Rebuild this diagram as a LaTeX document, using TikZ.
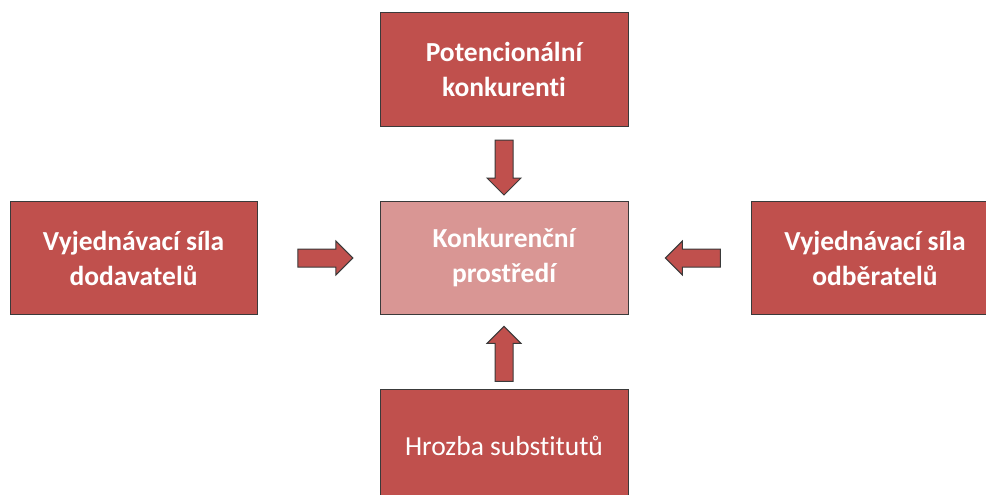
\documentclass[tikz,border=0pt]{standalone}
\usepackage{fontspec}
\setmainfont[Ligatures={NoCommon}]{Carlito}
\usepackage{tikz}
\usetikzlibrary{shapes.arrows}

\definecolor{boxred}{HTML}{C0504D}
\definecolor{boxpink}{HTML}{D99694}
\definecolor{edgegray}{HTML}{3A3A3A}

\tikzset{
	force/.style={draw=edgegray,line width=1pt,fill=boxred,text=white,
		minimum width=248pt,minimum height=113pt,align=center,inner sep=0pt,
		font=\fontsize{27.5}{35}\selectfont\bfseries},
	blockarrow/.style={single arrow,draw=edgegray,line width=1pt,fill=boxred,
		minimum height=55pt,inner xsep=0pt,inner ysep=8.5pt,
		single arrow head extend=8pt,sloped,allow upside down}
}

\begin{document}
\begin{tikzpicture}[x=1pt,y=-1pt]
	\useasboundingbox (0,0) rectangle (986,495);
	\clip (0,0) rectangle (986,495);
	\node[force] (pot) at (504,69.5) {Potencionální\\konkurenti};
	\node[force,minimum width=247pt] (dod) at (133.5,258) {Vyjednávací síla\\dodavatelů};
	\node[force,fill=boxpink] (kon) at (504,258) {Konkurenční\\prostředí};
	\node[force] (odb) at (875,258) {Vyjednávací síla\\odběratelů};
	\node[force,font=\fontsize{27.5}{35}\selectfont] (sub) at (504,445.5) {Hrozba substitutů};
	\path
	(pot) -- node[blockarrow,pos=.49] (a1) {} (kon)
	(dod) -- node[blockarrow,pos=.52] (a2) {} (kon)
	(odb) -- node[blockarrow,pos=.435] (a3) {} (kon)
	(sub) -- node[blockarrow,pos=.41] (a4) {} (kon)
	;
\end{tikzpicture}
\end{document}
